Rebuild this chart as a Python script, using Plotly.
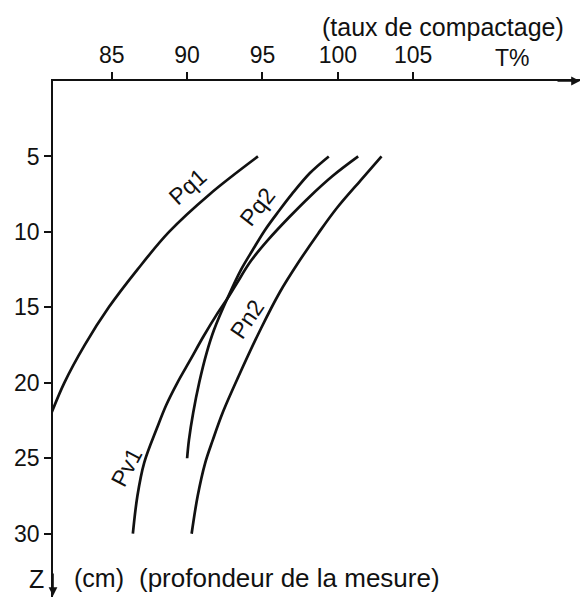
import plotly.graph_objects as go

# --- data (T% = compaction rate, Z = depth in cm) ---
pq1_z = [5.0, 7.5, 10.0, 12.5, 15.0, 17.5, 20.0, 22.0]
pq1_t = [94.7, 91.5, 88.8, 86.7, 84.8, 83.2, 81.85, 81.0]

pq2_z = [5.0, 6.1, 7.5, 8.6, 9.9, 11.2, 12.5, 14.3, 16.5, 18.0, 20.0, 22.0, 23.8, 25.0]
pq2_t = [99.4, 98.15, 96.95, 96.1, 95.15, 94.35, 93.58, 92.72, 91.78, 91.3, 90.8, 90.4, 90.12, 90.0]

pv1_z = [5.0, 6.3, 7.7, 9.0, 10.5, 11.9, 13.4, 14.3, 15.5, 16.9, 18.5, 20.0, 21.5, 23.0, 25.3, 27.5, 30.0]
pv1_t = [101.35, 99.65, 98.1, 96.8, 95.4, 94.25, 93.3, 92.75, 91.95, 91.1, 90.2, 89.35, 88.6, 88.0, 87.15, 86.7, 86.4]

pn2_z = [5.0, 6.6, 8.4, 10.1, 12.0, 14.0, 16.4, 19.6, 22.0, 23.8, 25.3, 27.5, 30.0]
pn2_t = [102.9, 101.5, 99.95, 98.7, 97.4, 96.15, 94.9, 93.4, 92.35, 91.7, 91.2, 90.7, 90.3]

x_ticks = [85, 90, 95, 100, 105]
y_ticks = [5, 10, 15, 20, 25, 30]

series = [("Pq1", pq1_t, pq1_z), ("Pq2", pq2_t, pq2_z),
          ("Pv1", pv1_t, pv1_z), ("Pn2", pn2_t, pn2_z)]

# curve labels: (text, T%, Z, angle)
labels = [("Pq1", 90.0, 7.0, -42), ("Pq2", 94.65, 8.35, -52),
          ("Pn2", 94.0, 15.8, -56), ("Pv1", 86.0, 25.6, -62)]

FONT = "Liberation Sans, Arial, Helvetica, sans-serif"
INK = "#111111"

fig = go.Figure()
for name, t, z in series:
    fig.add_trace(go.Scatter(x=t, y=z, mode="lines", name=name,
                             line=dict(color=INK, width=2.7, shape="spline", smoothing=1.0),
                             showlegend=False, hoverinfo="skip"))

for txt, xv, yv, ang in labels:
    fig.add_annotation(x=xv, y=yv, xref="x", yref="y", text=txt, showarrow=False,
                       textangle=ang, font=dict(family=FONT, size=23, color=INK))

W, H = 581, 597
L, T = 53, 81
plot_w = W - L - 1
plot_h = H - T
px_per_unit = 15.07
x0 = 81.1
x1 = x0 + plot_w / px_per_unit
y1 = plot_h / 15.09

fig.update_layout(
    width=W, height=H,
    margin=dict(l=L, r=1, t=T, b=0),
    paper_bgcolor="white", plot_bgcolor="white",
    font=dict(family=FONT, size=23, color=INK),
    xaxis=dict(range=[x0, x1], side="top", tickvals=x_ticks,
               ticks="outside", ticklen=7, tickwidth=1.5, tickcolor=INK,
               showline=True, linecolor=INK, linewidth=1.6,
               showgrid=False, zeroline=False, fixedrange=True,
               tickfont=dict(family=FONT, size=23, color=INK)),
    yaxis=dict(range=[y1, 0], tickvals=y_ticks,
               ticks="outside", ticklen=7, tickwidth=1.5, tickcolor=INK,
               showline=True, linecolor=INK, linewidth=1.6,
               showgrid=False, zeroline=False, fixedrange=True,
               tickfont=dict(family=FONT, size=23, color=INK)),
)

# axis arrowheads
fig.add_annotation(xref="paper", yref="paper", x=(580 - L) / plot_w, y=1,
                   ax=-24, ay=0, text="", showarrow=True,
                   arrowhead=2, arrowsize=1.1, arrowwidth=1.6, arrowcolor=INK)
fig.add_annotation(xref="paper", yref="paper", x=0, y=1.0 / plot_h,
                   ax=0, ay=-24, text="", showarrow=True,
                   arrowhead=2, arrowsize=1.1, arrowwidth=1.6, arrowcolor=INK)

# axis titles (positions given in page pixels)
def page_ann(text, px, py, size, xanchor="center"):
    fig.add_annotation(xref="paper", yref="paper", x=(px - L) / plot_w, y=(H - py) / plot_h,
                       yanchor="middle", xanchor=xanchor, text=text, showarrow=False,
                       font=dict(family=FONT, size=size, color=INK))

page_ann("(taux de compactage)", 443, 27, 25)
page_ann("T%", 512, 58, 23)
page_ann("Z", 36, 579, 25)
page_ann("(cm)", 72, 578, 25, "left")
page_ann("(profondeur de la mesure)", 137, 578, 26, "left")

fig.write_html("out.html", config={"displayModeBar": False},
               post_script="document.body.style.margin='0px';document.body.style.overflow='hidden';")
